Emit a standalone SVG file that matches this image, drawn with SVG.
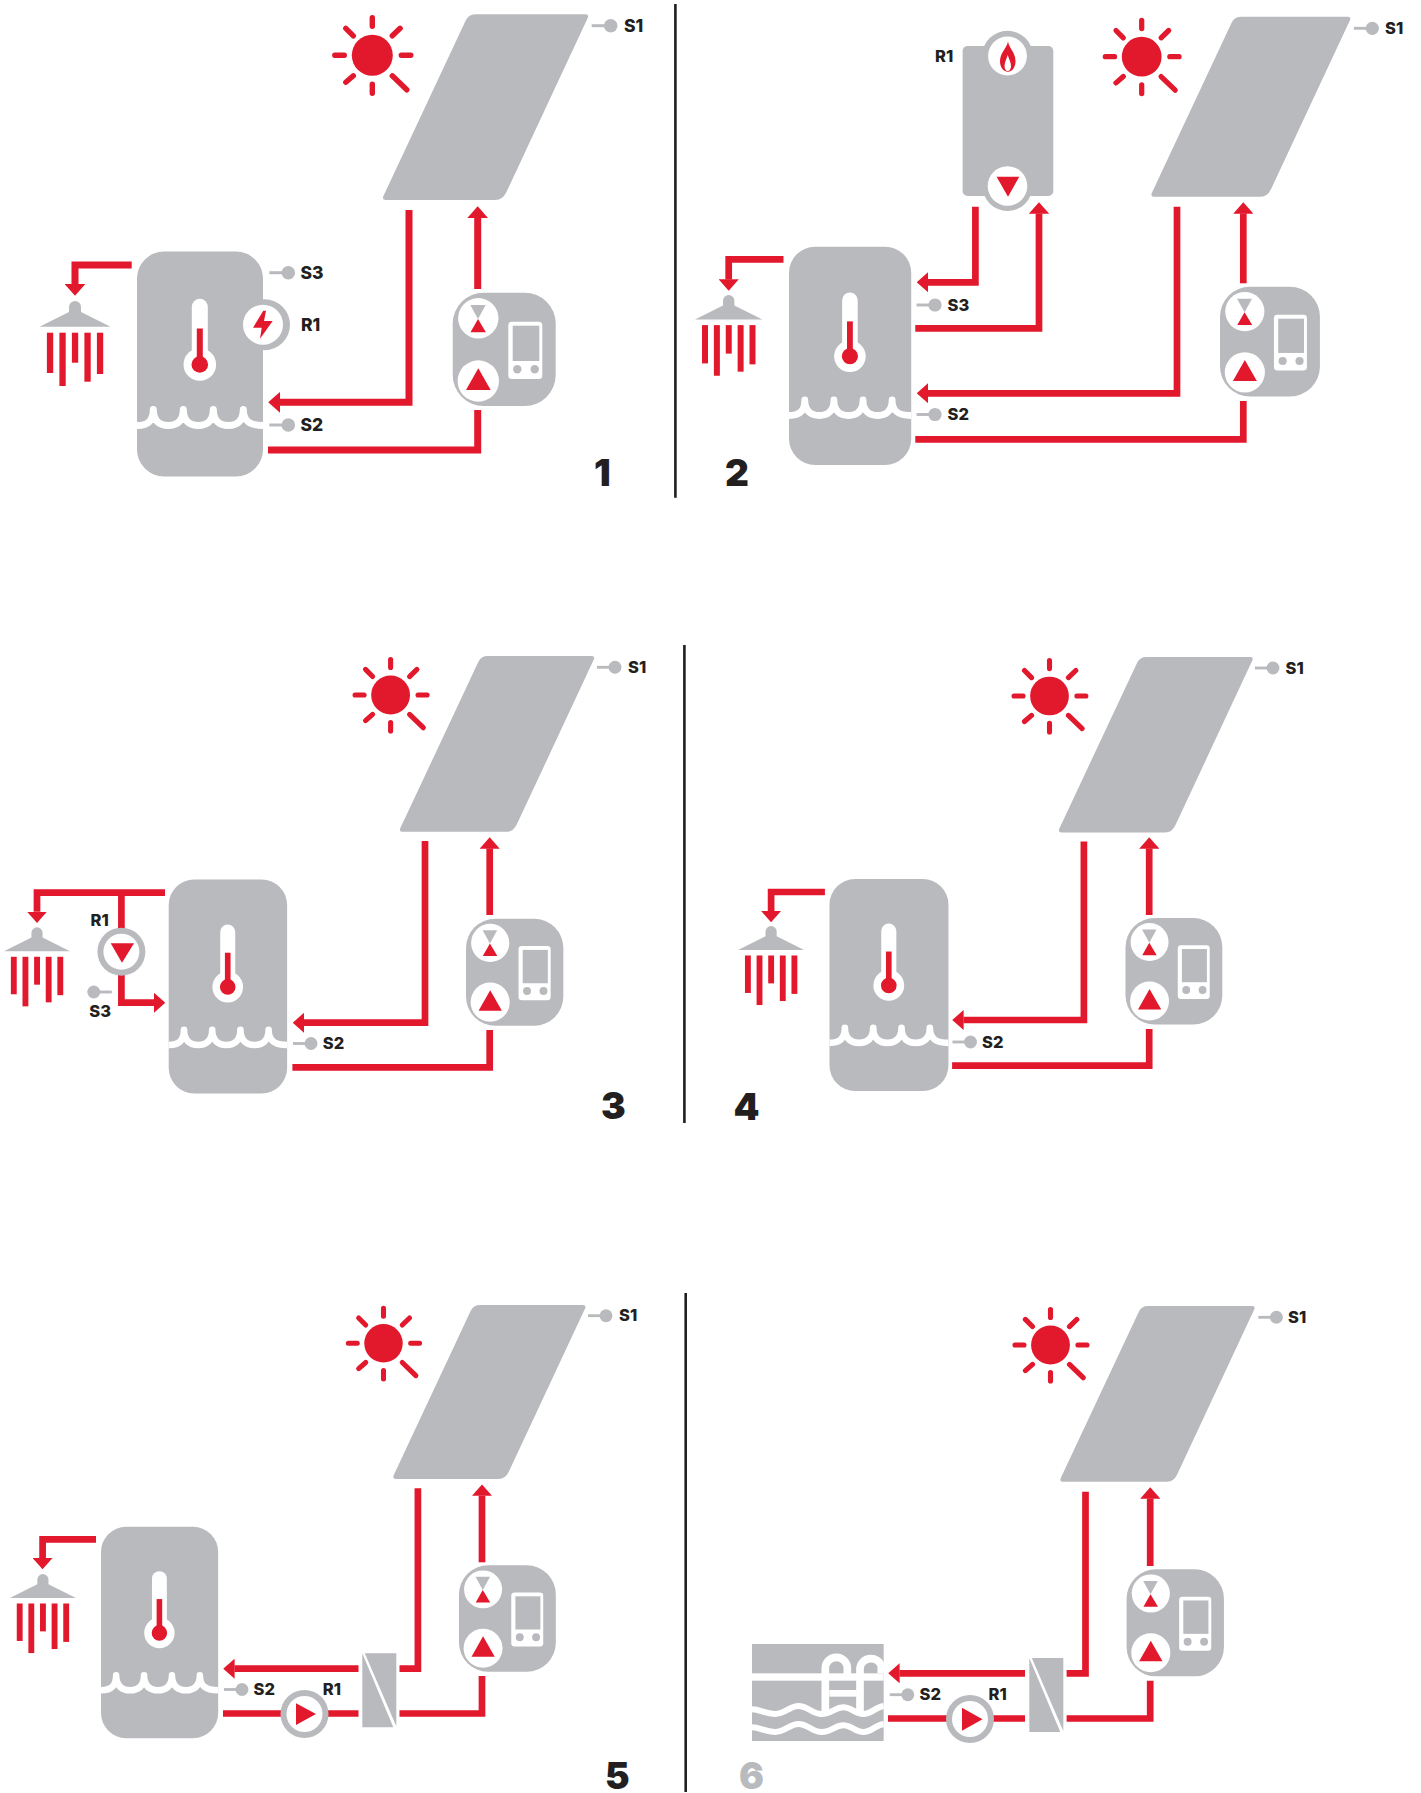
<svg xmlns="http://www.w3.org/2000/svg" width="1421" height="1793" viewBox="0 0 1421 1793">
<style>
.g{fill:#b9babd}.r{fill:#e2182c}.w{fill:#fff}
.p{fill:none;stroke:#e2182c;stroke-width:6.7;stroke-linejoin:miter;marker-end:url(#ah)}
.n{fill:none;stroke:#e2182c;stroke-width:6.7;stroke-linejoin:miter}
.t{font-family:Inter,"Liberation Sans",sans-serif;font-weight:800;font-size:16.5px;fill:#231f20}
.t1{font-size:17.5px}
.num{font-family:Inter,"Liberation Sans",sans-serif;font-weight:900;font-size:37px;fill:#231f20}
.div{stroke:#1f1f21;stroke-width:2.6}
</style>
<defs>
<marker id="ah" viewBox="0 0 17 30" markerWidth="1.7" markerHeight="3" refX="0.2" refY="15" orient="auto"><path d="M0,0L17,15L0,30Z" fill="#e2182c"/></marker>
<g id="sun"><circle r="20.5" class="r"/><path d="M0,-37.5V-29M0,29V38M-37.5,0H-28M29,0H38.5M20,-19.5L27.8,-27M-19,-19.5L-26.5,-27M-19,20.5L-26.5,27M20,20.5L34.5,34.5" fill="none" stroke="#e2182c" stroke-width="5.4" stroke-linecap="round"/></g>
<path id="collector" class="g" d="M93,0L203,0Q206.5,0 205.2,3.5L123.7,178Q120,185.7 113,185.7L3,185.7Q-0.5,185.7 0.7,182L83.2,6Q86,0 93,0Z"/>
<g id="sensor"><path d="M-19,0H0" stroke="#b9babd" stroke-width="3"/><circle r="6.8" class="g"/></g>
<g id="tank"><rect width="126" height="225" rx="27" class="g"/>
<path d="M0,174C10,174 16.3,170 16.3,158C16.3,170 23,174 31.3,174C39.6,174 46.3,170 46.3,158C46.3,170 53,174 61.3,174C69.6,174 76.3,170 76.3,158C76.3,170 83,174 91.3,174C99.6,174 106.3,170 106.3,158C106.3,170 113,174 126,174" fill="none" stroke="#fff" stroke-width="7" stroke-linejoin="round"/>
<rect x="54.8" y="47.3" width="16" height="70" rx="8" class="w"/><circle cx="62.8" cy="113" r="16.3" class="w"/><rect x="59.8" y="77" width="6" height="36" class="r"/><circle cx="62.8" cy="113" r="8.3" class="r"/></g>
<g id="shower"><rect x="-6" y="0" width="12" height="18" rx="6" class="g"/><path d="M-6,11L-35.5,25.7H35.5L6,11Z" class="g"/>
<g class="r"><rect x="-28.1" y="31.7" width="6.3" height="40.3"/><rect x="-15.6" y="31.7" width="6.3" height="53.3"/><rect x="-3.1" y="31.7" width="6.3" height="30"/><rect x="9.4" y="31.7" width="6.3" height="49"/><rect x="21.9" y="31.7" width="6.3" height="41.3"/></g></g>
<g id="controller"><rect width="103" height="113.3" rx="31" class="g"/>
<circle cx="25.6" cy="25.6" r="20.2" class="w"/><path d="M17.6,12.3H33L25.3,26.3Z" class="g"/><path d="M17.8,39.6H33.2L25.3,26.3Z" class="r"/>
<circle cx="25.6" cy="88.3" r="20.7" class="w"/><path d="M13.3,97.3H38L25.6,75.6Z" class="r"/>
<rect x="55.6" y="29" width="34" height="57.3" rx="3.5" class="w"/><rect x="60" y="33" width="26.6" height="35.3" class="g"/><circle cx="64.6" cy="76.6" r="4.2" class="g"/><circle cx="82" cy="76.6" r="4.2" class="g"/></g>
<g id="pump"><circle r="24" class="g"/><circle r="18" class="w"/></g>
<g id="hx"><path d="M0,0V74H31Z" class="g"/><path d="M2.5,0H34V73Z" class="g"/></g>
</defs>
<rect width="1421" height="1793" fill="#fff"/>

<g id="connectors">
<path class="p" style="stroke-width:7" d="M409,210V402.3H280"/>
<path class="p" style="stroke-width:7" d="M477.7,289V218"/>
<path class="n" style="stroke-width:7" d="M268,450H477.7V410"/>
<path class="p" style="stroke-width:7" d="M131.7,265H75V284"/>
<path class="p" d="M975.4,206.7V282.3H928"/>
<path class="p" d="M915.3,328.3H1039V213.5"/>
<path class="p" d="M1177,206.7V393.3H928"/>
<path class="n" d="M915.3,439.3H1243.3V401"/>
<path class="p" d="M1243.3,283.3V213.5"/>
<path class="p" d="M783.5,259.3H728.7V279.5"/>
<path class="p" d="M165,892.7H37V911.7"/>
<path class="n" d="M121.4,892.7V951.7"/>
<path class="p" d="M121.4,951.7V1002.7H154"/>
<path class="p" d="M425,841V1022.7H304"/>
<path class="n" d="M292.4,1067.3H489.7V1030"/>
<path class="p" d="M489.7,915V848.5"/>
<path class="p" d="M1083.9,841.6V1020H963.5"/>
<path class="n" d="M952.1,1065.7H1149.2V1029"/>
<path class="p" d="M1149.2,915V848.5"/>
<path class="p" d="M824.9,892H771.1V911"/>
<path class="p" d="M358.5,1668.7H234.5"/>
<path class="n" d="M399.5,1668.7H417.9V1488.3"/>
<path class="n" d="M223,1713.5H358.5"/>
<path class="n" d="M399.5,1713.5H482V1676"/>
<path class="p" d="M482,1562.3V1495.7"/>
<path class="p" d="M96,1539.3H42.6V1558"/>
<path class="p" d="M1025,1673.3H899.5"/>
<path class="n" d="M1066.6,1673.3H1085.5V1491.7"/>
<path class="n" d="M888,1718.5H1025"/>
<path class="n" d="M1066.6,1718.5H1150.2V1680.7"/>
<path class="p" d="M1150.2,1566V1498.5"/>
</g>

<g id="dividers">
<path class="div" d="M675.4,4V497.7"/><path class="div" d="M684.4,645V1123"/><path class="div" d="M685.7,1293V1792"/>
</g>

<g id="panel-1">
<g id="p1-sun"><use href="#sun" transform="translate(372.3,55.3)"/></g>
<g id="p1-collector"><use href="#collector" transform="translate(382.6,14.3)"/></g>
<g id="p1-s1"><use href="#sensor" transform="translate(610.7,25.7)"/><text class="t t1" x="624" y="31.7">S1</text></g>
<g id="p1-heater-ring"><circle cx="264.5" cy="324.7" r="25.5" class="g"/></g>
<g id="p1-tank"><use href="#tank" transform="translate(137,251.5)"/></g>
<g id="p1-r1"><circle cx="263" cy="324.7" r="20" class="w"/><path class="r" d="M263.3,310.7L253,327.7H261.7L260,338.7L272.7,321H264L266,310.7Z"/><text class="t t1" x="301" y="330.7">R1</text></g>
<g id="p1-s3"><use href="#sensor" transform="translate(288.3,272.7)"/><text class="t t1" x="300.5" y="279.3">S3</text></g>
<g id="p1-s2"><use href="#sensor" transform="translate(288.3,425)"/><text class="t t1" x="300.5" y="430.7">S2</text></g>
<g id="p1-shower"><use href="#shower" transform="translate(75,301)"/></g>
<g id="p1-controller"><use href="#controller" transform="translate(452.7,292.7)"/></g>
<text class="num" x="594" y="486">1</text>
</g>

<g id="panel-2">
<g id="p2-sun"><use href="#sun" transform="translate(1141.7,56.7) scale(.97)"/></g>
<g id="p2-collector"><use href="#collector" transform="translate(1151,16.7) scale(.97)"/></g>
<g id="p2-s1"><use href="#sensor" transform="translate(1372.3,28.3) scale(.97)"/><text class="t" x="1385" y="33.7">S1</text></g>
<g id="p2-boiler"><rect x="962.6" y="46" width="90.7" height="150" rx="5" class="g"/>
<circle cx="1007.5" cy="56" r="25.3" class="g"/><circle cx="1007.5" cy="56" r="19.4" class="w"/>
<path class="r" d="M1008,40.7C1008,47 1000,52 1000,61C1000,67 1003,71.7 1008,71.7C1012.5,71.7 1015.5,67 1015.5,61C1015.5,52 1008,47 1008,40.7Z"/>
<path class="w" d="M1007.7,55C1006,60 1004.5,63 1004.5,66C1004.5,69 1006,71 1007.7,71C1009.5,71 1011,69 1011,66C1011,63 1009.5,60 1007.7,55Z"/>
<circle cx="1007.5" cy="186" r="25" class="g"/><circle cx="1007.5" cy="186" r="19.8" class="w"/>
<path class="r" d="M996.6,176.7H1019.3L1008,196.7Z"/>
<text class="t" x="935" y="61.7">R1</text></g>
<g id="p2-tank"><use href="#tank" transform="translate(789,246.7) scale(.97)"/></g>
<g id="p2-s3"><use href="#sensor" transform="translate(935,305) scale(.97)"/><text class="t" x="947.5" y="310.7">S3</text></g>
<g id="p2-s2"><use href="#sensor" transform="translate(935,414.5) scale(.97)"/><text class="t" x="947.5" y="420.2">S2</text></g>
<g id="p2-shower"><use href="#shower" transform="translate(728.7,295) scale(.95)"/></g>
<g id="p2-controller"><use href="#controller" transform="translate(1220,286.7) scale(.97)"/></g>
<text class="num" x="725" y="486">2</text>
</g>

<g id="panel-3">
<g id="p3-sun"><use href="#sun" transform="translate(390.6,695) scale(.947)"/></g>
<g id="p3-collector"><use href="#collector" transform="translate(399.6,656) scale(.947)"/></g>
<g id="p3-s1"><use href="#sensor" transform="translate(615,667.3) scale(.95)"/><text class="t" x="628" y="672.7">S1</text></g>
<g id="p3-tank"><use href="#tank" transform="translate(168.7,879.5) scale(.94,.951)"/></g>
<g id="p3-s2"><use href="#sensor" transform="translate(311,1043.5) scale(.95)"/><text class="t" x="322.8" y="1049">S2</text></g>
<g id="p3-r1"><use href="#pump" transform="translate(121.4,951.7)"/><path class="r" d="M110.7,943.3H134L122,962.7Z"/><text class="t" x="90.6" y="926">R1</text></g>
<g id="p3-s3"><use href="#sensor" transform="translate(93.75,992) scale(-.95,.95)"/><text class="t" x="89.3" y="1017.3">S3</text></g>
<g id="p3-shower"><use href="#shower" transform="translate(37,927.3) scale(.93)"/></g>
<g id="p3-controller"><use href="#controller" transform="translate(466,918.7) scale(.945)"/></g>
<text class="num" x="601" y="1119.3">3</text>
</g>

<g id="panel-4" transform="translate(-2.5,0)">
<g id="p4-sun"><use href="#sun" transform="translate(1052,696) scale(.945)"/></g>
<g id="p4-collector"><use href="#collector" transform="translate(1061,657) scale(.945)"/></g>
<g id="p4-s1"><use href="#sensor" transform="translate(1275.5,668) scale(.95)"/><text class="t" x="1288" y="673.5">S1</text></g>
<g id="p4-tank"><use href="#tank" transform="translate(832,879) scale(.944,.942)"/></g>
<g id="p4-s2"><use href="#sensor" transform="translate(973,1042) scale(.95)"/><text class="t" x="984.5" y="1047.5">S2</text></g>
<g id="p4-shower"><use href="#shower" transform="translate(773.6,926) scale(.93)"/></g>
<g id="p4-controller"><use href="#controller" transform="translate(1128,918) scale(.94)"/></g>
<text class="num" x="736" y="1120">4</text>
</g>

<g id="panel-5">
<g id="p5-sun"><use href="#sun" transform="translate(383.5,1343.3) scale(.937)"/></g>
<g id="p5-collector"><use href="#collector" transform="translate(392.9,1305) scale(.937)"/></g>
<g id="p5-s1"><use href="#sensor" transform="translate(606,1315.7) scale(.95)"/><text class="t" x="619" y="1321">S1</text></g>
<g id="p5-tank"><use href="#tank" transform="translate(101,1526.7) scale(.93,.94)"/></g>
<g id="p5-s2"><use href="#sensor" transform="translate(242,1689.5) scale(.95)"/><text class="t" x="253.6" y="1695">S2</text></g>
<g id="p5-r1"><use href="#pump" transform="translate(304.5,1714)"/><path class="r" d="M296,1703.3V1725L316,1714Z"/><text class="t" x="322.8" y="1695">R1</text></g>
<g id="p5-hx"><use href="#hx" transform="translate(362.3,1653.3)"/></g>
<g id="p5-shower"><use href="#shower" transform="translate(42.9,1574) scale(.93)"/></g>
<g id="p5-controller"><use href="#controller" transform="translate(459,1565.3) scale(.94)"/></g>
<text class="num" x="605" y="1789">5</text>
</g>

<g id="panel-6">
<g id="p6-sun"><use href="#sun" transform="translate(1050.5,1345) scale(.947)"/></g>
<g id="p6-collector"><use href="#collector" transform="translate(1060,1306) scale(.947)"/></g>
<g id="p6-s1"><use href="#sensor" transform="translate(1276.4,1317.3) scale(.95)"/><text class="t" x="1288" y="1322.7">S1</text></g>
<g id="p6-pool" transform="translate(740,1630) scale(.3333)">
<rect x="36" y="42" width="395" height="291" class="g"/>
<rect x="36" y="130" width="395" height="22" class="w"/>
<path d="M256,250V115A33,33 0 0 1 322,115V140M360,250V115A33,33 0 0 1 424,108V130" fill="none" stroke="#fff" stroke-width="23"/>
<path d="M268,190H350" stroke="#fff" stroke-width="20"/>
<path d="M36,238C60,238 75,252 105,252C135,252 150,228 175,228C205,228 215,252 245,252C275,252 285,232 310,232C335,232 345,252 370,252C395,252 405,232 431,228" fill="none" stroke="#fff" stroke-width="18"/>
<path d="M36,292C60,292 75,306 105,306C135,306 150,282 175,282C205,282 215,306 245,306C275,306 285,286 310,286C335,286 345,306 370,306C395,306 405,286 431,282" fill="none" stroke="#fff" stroke-width="18"/>
</g>
<g id="p6-s2"><use href="#sensor" transform="translate(907.8,1694.7) scale(.95)"/><text class="t" x="919.6" y="1700">S2</text></g>
<g id="p6-r1"><use href="#pump" transform="translate(970,1719)"/><path class="r" d="M962,1707.7V1730.7L982.5,1719.3Z"/><text class="t" x="988.6" y="1700">R1</text></g>
<g id="p6-hx"><use href="#hx" transform="translate(1029.3,1658)"/></g>
<g id="p6-controller"><use href="#controller" transform="translate(1126.6,1569.3) scale(.945)"/></g>
<text class="num" style="fill:#b9babd" x="739" y="1789">6</text>
</g>
</svg>
